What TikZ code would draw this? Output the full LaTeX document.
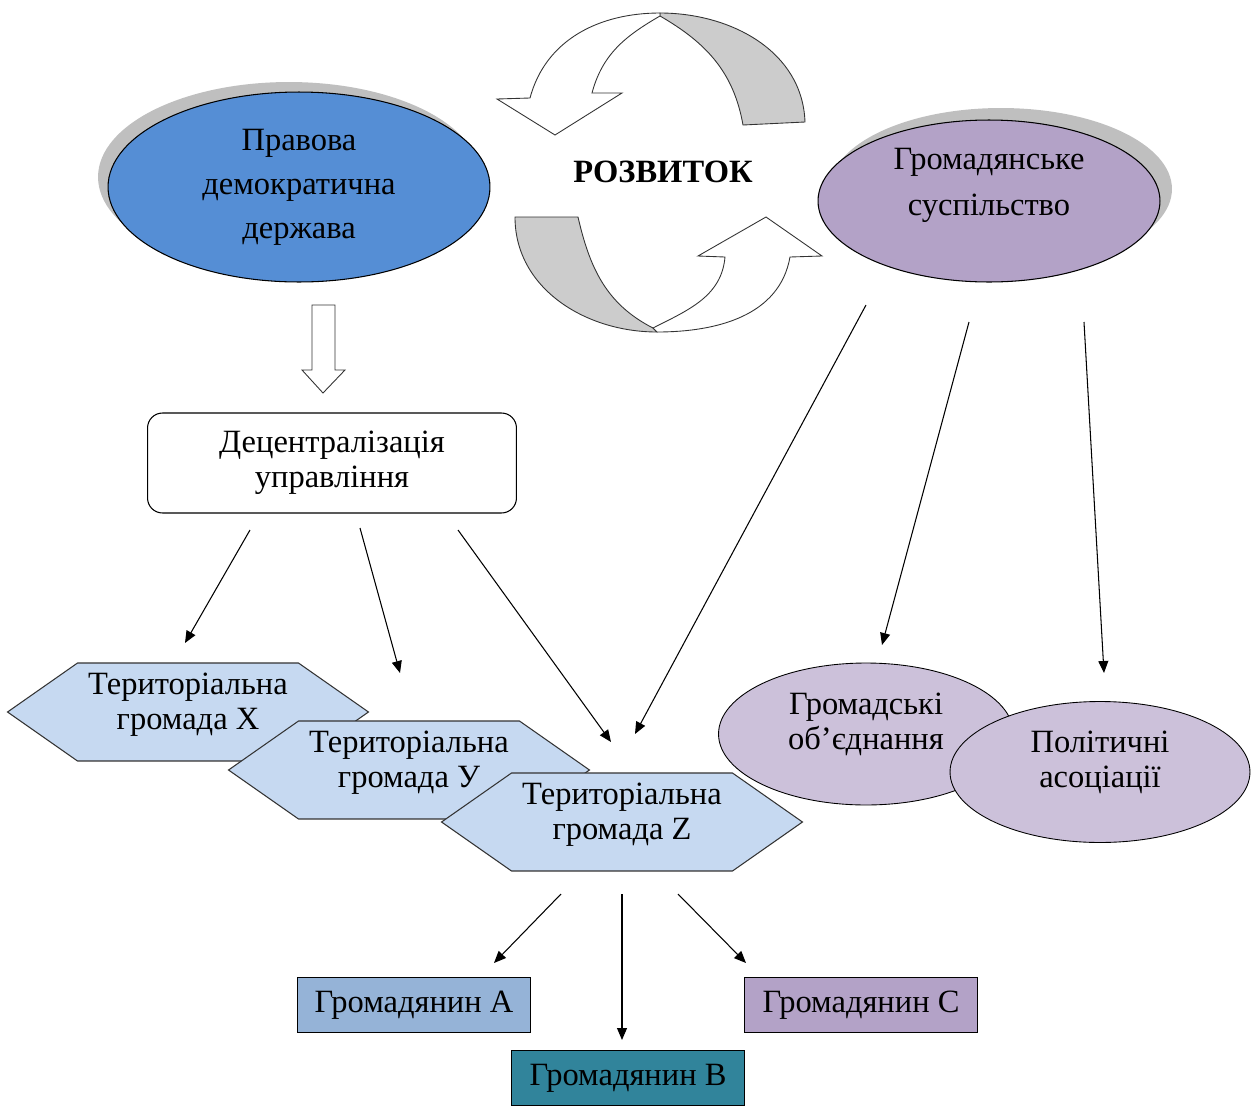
\documentclass[tikz,border=0pt]{standalone}
\usepackage{fontspec}
\setmainfont{Liberation Serif}
\usetikzlibrary{shapes.geometric,shapes.symbols,shadows,arrows.meta}

\definecolor{stateblue}{HTML}{558ED5}
\definecolor{societylilac}{HTML}{B3A2C7}
\definecolor{assoclilac}{HTML}{CCC1DA}
\definecolor{hexblue}{HTML}{C6D9F1}
\definecolor{citA}{HTML}{95B3D7}
\definecolor{citB}{HTML}{31849B}
\definecolor{citC}{HTML}{B3A2C7}
\definecolor{shadowgray}{HTML}{BFBFBF}
\definecolor{ribbongray}{HTML}{CCCCCC}

\tikzset{
  txt/.style={align=center, text=black, font=\fontsize{18.5pt}{20pt}\selectfont},
  bigell/.style={txt, ellipse, draw=black, line width=0.6pt, inner sep=0pt,
    font=\fontsize{18.5pt}{25pt}\selectfont},
  smallell/.style={txt, ellipse, draw=black, line width=0.5pt, inner sep=0pt,
    fill=assoclilac, minimum width=5.9cm, minimum height=2.84cm, text depth=15pt},
  hexa/.style={txt, signal, signal to=east and west, signal pointer angle=70,
    draw=black!80, line width=0.6pt, fill=hexblue, inner sep=0pt,
    minimum width=7.22cm, minimum height=1.96cm, text depth=12pt},
  citizen/.style={txt, rectangle, draw=black, line width=0.6pt,
    minimum width=4.66cm, minimum height=1.1cm},
  ribbon/.style={draw=black!80, line width=0.5pt},
  arr/.style={-{Triangle[length=0.24cm,width=0.2cm]}, line width=0.6pt},
}

\begin{document}
\begin{tikzpicture}[x=0.02cm, y=0.02cm]
	\useasboundingbox (0,0) rectangle (1259,-1106);

	% circular development arrows
	\filldraw[ribbon, fill=ribbongray] (660,-13) to[out=0, in=92] (805,-122) -- (743,-125)
		to[out=100, in=-30] (660,-16) -- cycle;
	\filldraw[ribbon, fill=white] (660,-13) to[out=180, in=75] (530,-98) -- (497,-99) -- (555,-135)
		-- (622,-93) -- (592,-93) to[out=75, in=210] (660,-16) -- cycle;
	\filldraw[ribbon, fill=ribbongray] (515,-217) to[out=-90, in=180] (657,-332) -- (653,-328)
		to[out=153, in=-77] (578,-217) -- cycle;
	\filldraw[ribbon, fill=white] (653,-328) to[out=27, in=-95] (725,-257) -- (698,-256) -- (766,-217)
		-- (822,-256) -- (790,-257) to[out=-100, in=0] (657,-332) -- cycle;
	\node[txt, font=\bfseries\fontsize{18.5pt}{20pt}\selectfont] (rozvytok) at (663,-172) {РОЗВИТОК};

	% state and society
	\node[bigell, fill=stateblue, minimum width=7.64cm, minimum height=3.8cm,
		drop shadow={shadow xshift=-0.2cm, shadow yshift=0.2cm, fill=shadowgray, opacity=1}]
		(pravova) at (299,-187) {Правова\\демократична\\держава};
	\node[bigell, fill=societylilac, minimum width=6.84cm, minimum height=3.24cm, text depth=22pt,
		font=\fontsize{18.5pt}{26pt}\selectfont,
		drop shadow={shadow xshift=0.24cm, shadow yshift=0.24cm, fill=shadowgray, opacity=1}]
		(suspilstvo) at (989,-201) {Громадянське\\суспільство};

	% hollow block arrow
	\filldraw[ribbon, fill=white] (312,-305) -- (335,-305) -- (335,-370) -- (345,-370) -- (323,-393)
		-- (302,-370) -- (312,-370) -- cycle;

	\node[txt, draw=black, line width=0.6pt, rounded corners=0.3cm, minimum width=7.38cm, minimum height=2cm]
		(detsentr) at (332,-463) {Децентралізація\\управління};

	% territorial communities
	\node[hexa] (hromX) at (188,-712) {Територіальна\\громада X};
	\node[hexa] (hromY) at (409,-770) {Територіальна\\громада У};
	\node[hexa] (hromZ) at (622,-822) {Територіальна\\громада Z};

	% associations
	\node[smallell] (hromob) at (866,-734) {Громадські\\об’єднання};
	\node[smallell, minimum width=6cm, minimum height=2.82cm] (polit) at (1100,-772) {Політичні\\асоціації};

	% citizens
	\node[citizen, fill=citA] (gromA) at (414,-1005) {Громадянин А};
	\node[citizen, fill=citB] (gromB) at (628,-1078) {Громадянин В};
	\node[citizen, fill=citC] (gromC) at (861,-1005) {Громадянин С};

	% arrow ends
	\coordinate (dc1) at (250,-530); \coordinate (tgX) at (185,-643);
	\coordinate (dc2) at (360,-528); \coordinate (tgY) at (400,-673);
	\coordinate (dc3) at (458,-530); \coordinate (tgZa) at (611,-742);
	\coordinate (sp1) at (866,-305); \coordinate (tgZb) at (635,-734);
	\coordinate (sp2) at (969,-322); \coordinate (gob) at (882,-645);
	\coordinate (sp3) at (1084,-322); \coordinate (pas) at (1104,-673);
	\coordinate (hz1) at (561,-894); \coordinate (ga) at (494,-963);
	\coordinate (hz2) at (622,-894); \coordinate (gb) at (622,-1040);
	\coordinate (hz3) at (678,-894); \coordinate (gc) at (746,-963);

	\draw[arr] (dc1) -- (tgX);
	\draw[arr] (dc2) -- (tgY);
	\draw[arr] (dc3) -- (tgZa);
	\draw[arr] (sp1) -- (tgZb);
	\draw[arr] (sp2) -- (gob);
	\draw[arr] (sp3) -- (pas);
	\draw[arr] (hz1) -- (ga);
	\draw[arr] (hz2) -- (gb);
	\draw[arr] (hz3) -- (gc);
\end{tikzpicture}
\end{document}
